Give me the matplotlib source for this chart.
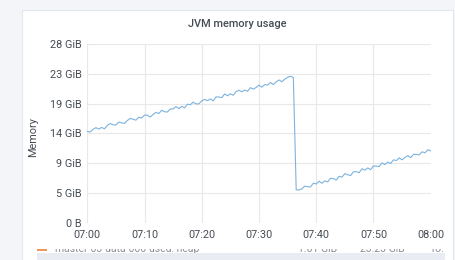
import matplotlib
matplotlib.use("Agg")
import matplotlib.pyplot as plt
import matplotlib.dates as mdates
from matplotlib.patches import Rectangle
import pandas as pd

plt.rcParams["font.family"] = ["Roboto", "DejaVu Sans"]

# heap used (GiB), one sample every 30 s from 07:00 to 08:00
heap_before_gc = [
    14.30, 14.22, 14.63, 14.90, 14.66, 14.93, 14.70, 15.26, 15.53, 15.34,
    15.31, 15.78, 15.64, 15.56, 16.02, 16.34, 16.21, 16.07, 16.54, 16.40,
    16.87, 16.84, 16.55, 16.97, 17.28, 17.10, 17.62, 17.38, 17.35, 17.81,
    17.83, 18.20, 17.86, 18.23, 17.99, 18.56, 18.48, 18.89, 18.61, 18.62,
    19.09, 19.31, 19.12, 19.39, 19.10, 19.72, 19.69, 19.60, 20.17, 19.88,
    20.20, 19.97, 20.53, 20.75, 20.51, 20.78, 20.60, 21.16, 20.93, 21.19,
    21.56, 21.23, 21.64, 21.56, 21.97, 21.64, 22.06, 22.37, 22.09, 22.50,
    22.77, 22.95, 22.75,
]
heap_after_gc = [
    5.15, 5.13, 5.31, 5.74, 5.62, 5.61, 6.19, 6.07, 6.50, 6.18,
    6.56, 6.39, 6.97, 6.90, 6.68, 7.27, 7.15, 7.68, 7.51, 7.39,
    7.97, 8.00, 7.83, 8.46, 8.24, 8.58, 8.31, 8.89, 8.87, 8.80,
    9.38, 9.11, 9.49, 9.27, 9.85, 9.74, 10.17, 9.85, 10.23, 10.51,
    10.19, 10.72, 10.70, 10.63, 11.11, 10.95, 11.43, 11.26,
]
heap_used = heap_before_gc + heap_after_gc
times = pd.date_range("2021-03-01 07:00", periods=len(heap_used), freq="30s")

y_ticks = [0, 28 / 6, 2 * 28 / 6, 3 * 28 / 6, 4 * 28 / 6, 5 * 28 / 6, 28]
y_labels = ["0 B", "5 GiB", "9 GiB", "14 GiB", "19 GiB", "23 GiB", "28 GiB"]
x_ticks = pd.date_range("2021-03-01 07:00", "2021-03-01 08:00", freq="10min")

legend_name = "master-03-data-000-used: heap"
legend_values = ["1.01 GiB", "23.23 GiB", "To."]

W, H = 456, 260
fig = plt.figure(figsize=(W / 100, H / 100), dpi=100)
fig.patch.set_facecolor("#f4f5f8")


def px(x, y):
    return x / W, 1 - y / H


# panel
fig.patches.append(Rectangle(px(22, 262), 431 / W, 252 / H, transform=fig.transFigure,
                             facecolor="white", edgecolor="#e3e6ec", lw=0.8, zorder=-1))

ax = fig.add_axes([87.3 / W, 1 - 222.7 / H, 343.4 / W, 178.7 / H])
ax.set_zorder(1)
ax.set_facecolor("none")
ax.plot(times, heap_used, color="#7db3de", lw=0.8)
ax.set_xlim(x_ticks[0], x_ticks[-1])
ax.set_ylim(0, 28)
ax.set_yticks(y_ticks)
ax.set_yticklabels(y_labels)
ax.set_xticks(x_ticks)
ax.xaxis.set_major_formatter(mdates.DateFormatter("%H:%M"))
ax.grid(True, color="#e8e8e8", lw=0.8)
for s in ax.spines.values():
    s.set_visible(False)
ax.tick_params(length=0, labelsize=7.8, colors="#464c54", pad=4)
ax.tick_params(axis="x", pad=5)

fig.text(*px(237, 24), "JVM memory usage", ha="center", va="center",
         fontsize=7.9, fontweight="medium", color="#464c54")
fig.text(*px(33, 137), "Memory", rotation=90, ha="center", va="center",
         fontsize=7.8, color="#464c54")

# legend row, partly scrolled out of view
fig.patches.append(Rectangle(px(37, 251), 10 / W, 3 / H, transform=fig.transFigure,
                             facecolor="#f0985a", edgecolor="none", zorder=2))
fig.text(*px(55, 252), legend_name, fontsize=7.5, color="#8a8d93", va="baseline", zorder=3)
for xv, val in zip([337, 405, 430], legend_values):
    fig.text(*px(xv, 252), val, fontsize=7.5, color="#8a8d93", va="baseline",
             ha="left" if val == "To." else "right", zorder=3)
# cover hiding the top of the legend row
fig.patches.append(Rectangle(px(30, 249), 420 / W, 8.5 / H, transform=fig.transFigure,
                             facecolor="white", edgecolor="none", zorder=4))
fig.patches.append(Rectangle(px(37, 262), 408 / W, 9 / H, transform=fig.transFigure,
                             facecolor="#e9edf3", edgecolor="none", zorder=4))

fig.savefig("out.png", dpi=100, facecolor=fig.get_facecolor())
